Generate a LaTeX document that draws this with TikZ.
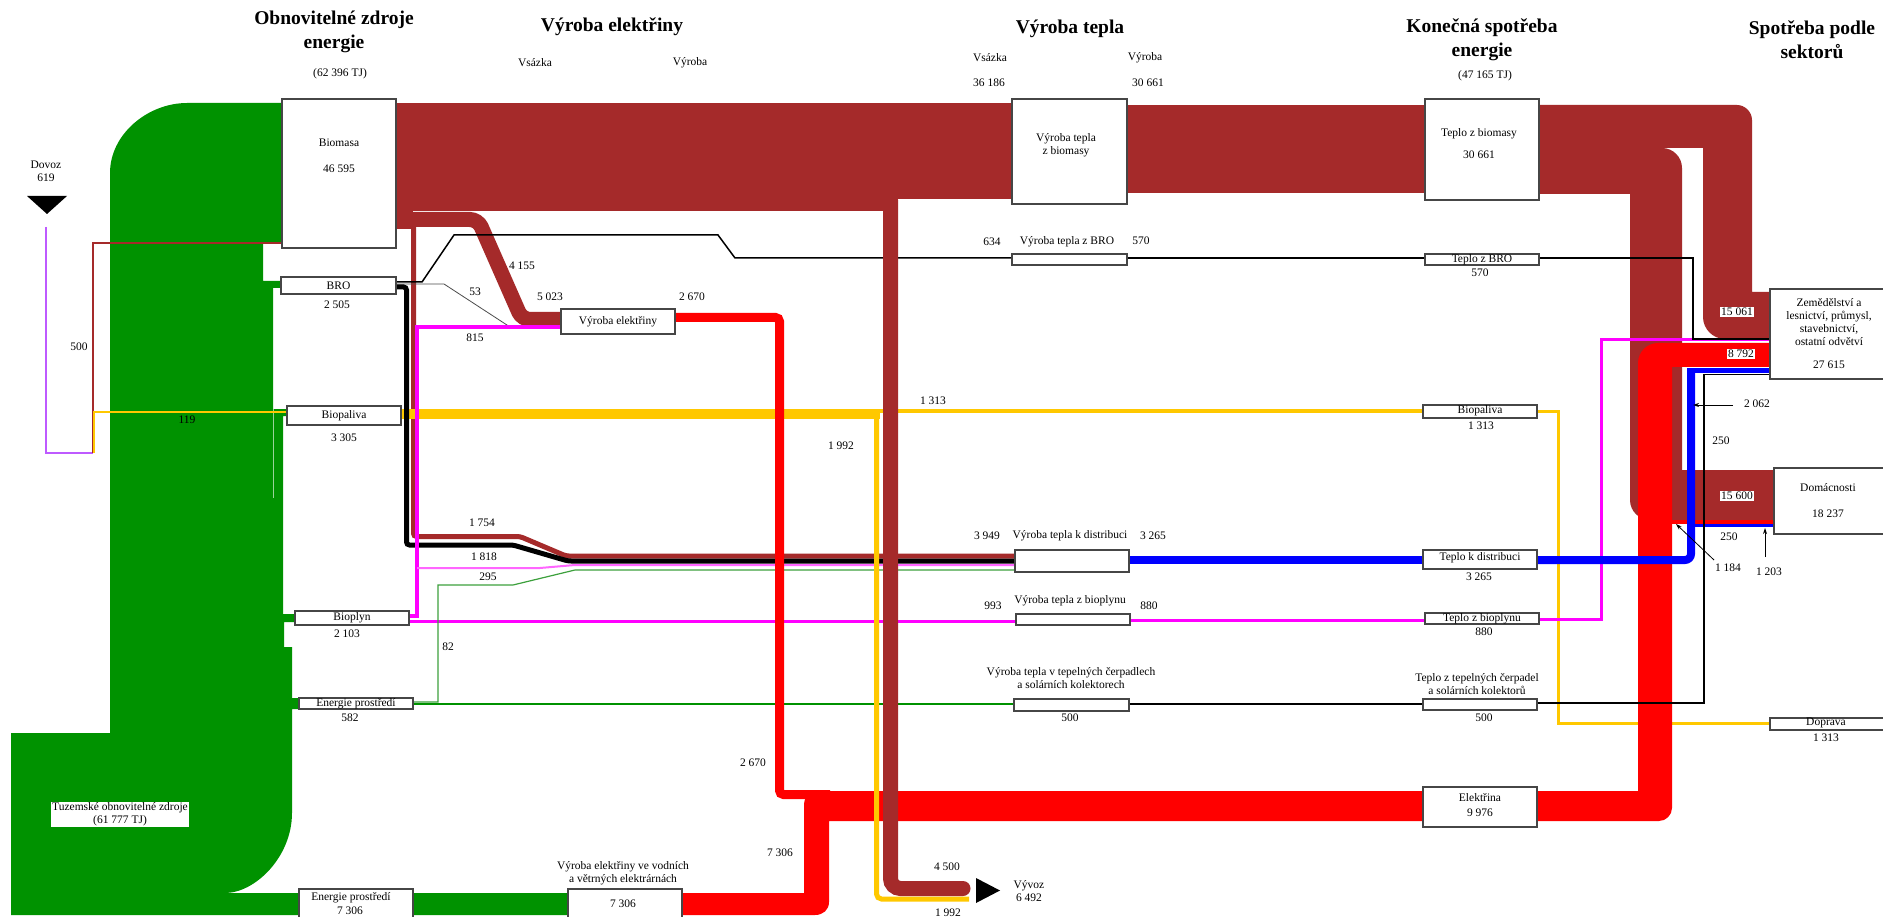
\documentclass[tikz,border=0pt]{standalone}
\usepackage{fontspec}
\setmainfont{Liberation Serif}
\usetikzlibrary{arrows.meta}
\definecolor{cbrown}{RGB}{165,42,42}
\definecolor{cgreen}{RGB}{0,146,0}
\definecolor{cgreenl}{RGB}{60,160,60}
\definecolor{cred}{RGB}{255,0,0}
\definecolor{cblue}{RGB}{0,0,255}
\definecolor{cpink}{RGB}{255,0,255}
\definecolor{cyel}{RGB}{255,200,0}
\definecolor{cviol}{RGB}{190,90,255}
\definecolor{cedge}{RGB}{70,70,70}
\newcommand{\fs}{\fontsize{11.5}{13}\selectfont}
\newcommand{\ftitle}{\fontsize{19.5}{24}\selectfont\bfseries}
\newcommand{\bx}[5]{\node[boxst, minimum width={#4-#2}, minimum height={#5-#3}] (#1) at ({(#2+#4)/2},{(#3+#5)/2}) {};}
\begin{document}
\begin{tikzpicture}[x=1pt,y=-1pt, font=\fs,
  boxst/.style={draw=cedge, fill=white, line width=1.2pt, inner sep=0pt},
  lbl/.style={inner sep=0.5pt, align=center},
  wlbl/.style={fill=white, inner sep=1pt},
  ttl/.style={font=\ftitle, align=center, inner sep=0pt},
  arr/.style={-{Stealth[length=6pt,width=4pt]}, line width=0.8pt}
  ]
\useasboundingbox (0,0) rectangle (1883,917);
\fill[white] (0,0) rectangle (1883,917);

% ---------------- green source ----------------
\fill[cgreen] (11,915) -- (11,733) -- (110,733) -- (110,173) .. controls (110,134) and (148,103) .. (187,103)
  -- (282,103) -- (282,243) -- (263,243) -- (263,281) -- (282,281) -- (282,288) -- (273,288)
  -- (273,409) -- (287,409) -- (287,416) -- (283,416) -- (283,614) -- (295,614) -- (295,622)
  -- (284,622) -- (284,647) -- (292,647) -- (292,698) -- (299,698) -- (299,709) -- (292,709)
  -- (292,813) .. controls (292,857) and (255,893) .. (225,893) -- (568,893) -- (568,915) -- cycle;
\draw[white, opacity=0.6, line width=1] (273,409) -- (273,498);

% ---------------- import lines ----------------
\draw[cviol, line width=1.5] (46,227) -- (46,453) -- (93,453);
\draw[cbrown, line width=1.5] (282,243) -- (93,243) -- (93,453);
\draw[cyel, line width=1.2] (94,453) -- (94,412) -- (287,412);

% ---------------- brown (biomass) ----------------
\fill[cbrown] (396,103) rectangle (1012,199);
\fill[cbrown] (396,199) rectangle (898,211);
\fill[cbrown] (396,211) rectangle (413,229);
\draw[cbrown, line width=15, rounded corners=8] (405,219.5) -- (478,219.5) -- (522,319.5) -- (561,319.5);
\draw[cbrown, line width=5, rounded corners=3] (413.5,225) -- (413.5,536.5) -- (520,536.5) -- (566,556) -- (1015,556);
\fill[cbrown] (1127,105) rectangle (1425,193);

% ---------------- yellow horizontal ----------------
\fill[cyel] (401,409) rectangle (880,419);
\draw[cyel, line width=3.5] (878,411) -- (1423,411);
\draw[cyel, line width=3] (1537,411) -- (1558,411) -- (1558,723) -- (1770,723);

% ---------------- BRO black ----------------
\draw[black, line width=1.5] (396,282) -- (422,282) -- (454,235) -- (718,235) -- (735,258) -- (1012,258);
\draw[black, line width=1.3] (1127,258) -- (1425,258);
\draw[black!70, line width=0.8] (396,284) -- (444,284) -- (510,327) -- (525,327);
\draw[black, line width=5, rounded corners=3] (396,287) -- (406.5,287) -- (406.5,545) -- (513,545) -- (568,561) -- (1015,561);

% ---------------- pink ----------------
\draw[cpink, line width=4] (409,616) -- (417,616) -- (417,327) -- (561,327);
\draw[cpink!60, line width=2] (417,568) -- (540,568) -- (575,565) -- (1015,565);
\draw[cpink, line width=3] (409,621) -- (1016,621);
\draw[cpink, line width=3] (1130,620) -- (1425,620);

% ---------------- green thin ----------------
\draw[cgreen, line width=2] (413,704) -- (1014,704);
\draw[cgreenl, line width=1.2] (413,702) -- (438,702) -- (438,585) -- (513,585) -- (575,570) -- (1015,570);
\draw[black, line width=1.3] (1129,704) -- (1423,704);

% ---------------- blue ----------------
\draw[cblue, line width=8] (1129,560) -- (1423,560);

% ---------------- red electricity ----------------
\fill[cred] (682,893) -- (804,893) -- (804,806) .. controls (804,797) and (808,791) .. (818,791)
  -- (1423,791) -- (1423,821) -- (829,821) -- (829,902) .. controls (829,910) and (823,915) .. (815,915)
  -- (682,915) -- cycle;
\draw[cred, line width=9, rounded corners=4] (675,317.5) -- (779.5,317.5) -- (779.5,794.5) -- (830,794.5);

% ---------------- verticals to export ----------------
\draw[cyel, line width=5, rounded corners=5] (876.5,414) -- (876.5,899) -- (969,899);
\draw[cbrown, line width=15, rounded corners=10, line cap=round] (890.5,200) -- (890.5,888.5) -- (963,888.5);

% ---------------- right side brown ----------------
\fill[cbrown] (1539,105) -- (1737,105) .. controls (1745,105) and (1752,112) .. (1752,120) -- (1752,292)
  -- (1770,292) -- (1770,339) -- (1725,339) .. controls (1713,339) and (1703,329) .. (1703,317)
  -- (1703,148) -- (1539,148) -- cycle;
\fill[cbrown] (1539,148) -- (1662,148) .. controls (1673,148) and (1682,157) .. (1682,168) -- (1682,470)
  -- (1774,470) -- (1774,520) -- (1650,520) .. controls (1639,520) and (1630,511) .. (1630,500)
  -- (1630,194) -- (1539,194) -- cycle;

% ---------------- right side red ----------------
\fill[cred] (1537,791) -- (1638,791) -- (1638,363) .. controls (1638,352) and (1647,343) .. (1658,343)
  -- (1770,343) -- (1770,367) -- (1672,367) -- (1672,808) .. controls (1672,815) and (1666,821) .. (1659,821)
  -- (1537,821) -- cycle;
\fill[cred] (1668,520) rectangle (1774,524);

% ---------------- right side thin lines ----------------
\draw[cpink, line width=3] (1539,619) -- (1601,619) -- (1601,340) -- (1770,340);
\draw[black, line width=1.3] (1539,258) -- (1693,258) -- (1693,339) -- (1770,339);
\draw[cblue, line width=8, rounded corners=6] (1537,560) -- (1691,560) -- (1691,372);
\fill[cblue] (1687,368) rectangle (1770,373);
\fill[cblue] (1691,524) rectangle (1774,527);
\draw[black, line width=1.3] (1537,703) -- (1704,703) -- (1704,374.5) -- (1770,374.5);

% ---------------- triangles ----------------
\fill[black] (27,196) -- (67,196) -- (47,214) -- cycle;
\fill[black] (976,878) -- (1000,890.5) -- (976,903) -- cycle;

% ---------------- boxes ----------------
\bx{biomasa}{282}{99}{396}{248}
\bx{bro}{281}{277}{396}{294}
\bx{biopal}{287}{406}{401}{425}
\bx{bioplyn}{295}{611}{409}{625}
\bx{envsm}{299}{698}{413}{709}
\bx{envbig}{299}{889}{413}{922}
\bx{hydro}{568}{889}{682}{922}
\bx{vyrel}{561}{309}{675}{334}
\bx{tepbio}{1012}{99}{1127}{204}
\bx{tepbro}{1012}{254}{1127}{265}
\bx{tepdist}{1015}{550}{1129}{572}
\bx{tepbpl}{1016}{614}{1130}{625}
\bx{teptc}{1014}{699}{1129}{711}
\bx{kbio}{1425}{99}{1539}{200}
\bx{kbro}{1425}{254}{1539}{265}
\bx{kbpal}{1423}{405}{1537}{418}
\bx{kdist}{1423}{550}{1537}{569}
\bx{kbpl}{1425}{613}{1539}{624}
\bx{ktc}{1423}{699}{1537}{710}
\bx{kel}{1423}{787}{1537}{827}
\bx{szem}{1770}{289}{1890}{379}
\bx{sdom}{1774}{468}{1890}{534}
\bx{sdop}{1770}{718}{1890}{730}

% ---------------- arrows ----------------
\draw[arr] (1733,405) -- (1693,405);
\draw[arr] (1714,560) -- (1676,524);
\draw[arr] (1765,557) -- (1765,528);

% ---------------- titles ----------------
\node[ttl] (t1) at (334,32) {Obnovitelné zdroje\\energie};
\node[ttl] (t2) at (612,27) {Výroba elektřiny};
\node[ttl] (t3) at (1070,29) {Výroba tepla};
\node[ttl] (t4) at (1482,40) {Konečná spotřeba\\energie};
\node[ttl] (t5) at (1812,40) {Spotřeba podle\\sektorů};

% ---------------- labels ----------------
\node[lbl] (l1) at (340,74) {(62 396 TJ)};
\node[lbl] (l2) at (535,63) {Vsázka};
\node[lbl] (l3) at (690,63) {Výroba};
\node[lbl] (l4) at (990,58) {Vsázka};
\node[lbl] (l5) at (1145,58) {Výroba};
\node[lbl] (l6) at (989,83) {36 186};
\node[lbl] (l7) at (1148,83) {30 661};
\node[lbl] (l8) at (1485,76) {(47 165 TJ)};
\node[lbl] (l9) at (46,171.5) {Dovoz\\619};
\node[lbl] (l10) at (79,347) {500};
\node[lbl] (l11) at (187,420) {119};
\node[lbl] (l12) at (339,143) {Biomasa};
\node[lbl] (l13) at (339,169) {46 595};
\node[lbl] (l14) at (338.5,285.5) {BRO};
\node[lbl] (l15) at (337,305) {2 505};
\node[lbl] (l16) at (344,415.5) {Biopaliva};
\node[lbl] (l17) at (344,438) {3 305};
\node[lbl] (l18) at (352,618) {Bioplyn};
\node[lbl] (l19) at (347,634) {2 103};
\node[lbl] (l20) at (356,703.5) {Energie prostředí};
\node[lbl] (l21) at (350,718) {582};
\node[lbl] (l22) at (351,898) {Energie prostředí};
\node[lbl] (l23) at (350,911) {7 306};
\node[wlbl, align=center] (l24) at (120,814.5) {Tuzemské obnovitelné zdroje\\(61 777 TJ)};
\node[lbl] (l25) at (522,266) {4 155};
\node[lbl] (l26) at (550,297) {5 023};
\node[lbl] (l27) at (475,292) {53};
\node[lbl] (l28) at (475,338) {815};
\node[lbl] (l29) at (692,297) {2 670};
\node[lbl] (l30) at (618,321.5) {Výroba elektřiny};
\node[lbl] (l31) at (482,523) {1 754};
\node[lbl] (l32) at (484,557) {1 818};
\node[lbl] (l33) at (488,577) {295};
\node[lbl] (l34) at (448,647) {82};
\node[lbl] (l35) at (933,401) {1 313};
\node[lbl] (l36) at (841,446) {1 992};
\node[lbl] (l37) at (992,242) {634};
\node[lbl] (l38) at (1067,242) {Výroba tepla z BRO};
\node[lbl] (l39) at (1141,241) {570};
\node[lbl] (l40) at (1066,145) {Výroba tepla\\z biomasy};
\node[lbl] (l41) at (987,536) {3 949};
\node[lbl] (l42) at (1070,536) {Výroba tepla k distribuci};
\node[lbl] (l43) at (1153,536) {3 265};
\node[lbl] (l44) at (993,606) {993};
\node[lbl] (l45) at (1070,601) {Výroba tepla z bioplynu};
\node[lbl] (l46) at (1149,606) {880};
\node[lbl] (l47) at (1071,678.5) {Výroba tepla v tepelných čerpadlech\\a solárních kolektorech};
\node[lbl] (l48) at (1070,718) {500};
\node[lbl] (l49) at (753,763) {2 670};
\node[lbl] (l50) at (780,853) {7 306};
\node[lbl] (l51) at (947,867) {4 500};
\node[lbl] (l52) at (948,913) {1 992};
\node[lbl] (l53) at (623,873.5) {Výroba elektřiny ve vodních\\a větrných elektrárnách};
\node[lbl] (l54) at (623,904) {7 306};
\node[lbl] (l55) at (1029,891.5) {Vývoz\\6 492};
\node[lbl] (l56) at (1479,134) {Teplo z biomasy};
\node[lbl] (l57) at (1479,155) {30 661};
\node[lbl] (l58) at (1482,259.5) {Teplo z BRO};
\node[lbl] (l59) at (1480,273) {570};
\node[lbl] (l60) at (1480,410.5) {Biopaliva};
\node[lbl] (l61) at (1481,426) {1 313};
\node[lbl] (l62) at (1480,558) {Teplo k distribuci};
\node[lbl] (l63) at (1479,577) {3 265};
\node[lbl] (l64) at (1482,619) {Teplo z bioplynu};
\node[lbl] (l65) at (1484,632) {880};
\node[lbl] (l66) at (1477,684) {Teplo z tepelných čerpadel\\a solárních kolektorů};
\node[lbl] (l67) at (1484,718) {500};
\node[lbl] (l68) at (1480,798) {Elektřina};
\node[lbl] (l69) at (1480,813) {9 976};
\node[lbl] (l70) at (1829,322.5) {Zemědělství a\\lesnictví, průmysl,\\stavebnictví,\\ostatní odvětví};
\node[lbl] (l71) at (1829,365) {27 615};
\node[lbl] (l72) at (1828,488) {Domácnosti};
\node[lbl] (l73) at (1828,514) {18 237};
\node[lbl] (l74) at (1826,723) {Doprava};
\node[lbl] (l75) at (1826,738) {1 313};
\node[wlbl] (l76) at (1737,312) {15 061};
\node[wlbl] (l77) at (1741,354) {8 792};
\node[wlbl] (l78) at (1737,496) {15 600};
\node[lbl] (l79) at (1757,404) {2 062};
\node[lbl] (l80) at (1721,441) {250};
\node[lbl] (l81) at (1729,537) {250};
\node[lbl] (l82) at (1728,568) {1 184};
\node[lbl] (l83) at (1769,572) {1 203};
\end{tikzpicture}
\end{document}
